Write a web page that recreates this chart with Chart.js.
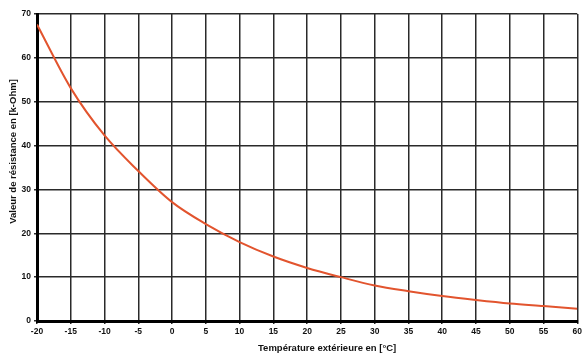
<!DOCTYPE html>
<html><head><meta charset="utf-8">
<script src="https://cdn.jsdelivr.net/npm/chart.js@4"></script>
<style>html,body{margin:0;padding:0;background:#fff}#w{width:585px;height:354px}</style>
</head><body><div id="w"><canvas id="c"></canvas></div>
<script>
const temperatures = [-20,-15,-10,-5,0,5,10,15,20,25,30,35,40,45,50,55,60];
const resistance = [67.6,53.1,42.3,34.2,27.1,22.1,18.0,14.7,12.1,10.0,8.1,6.8,5.7,4.8,4.0,3.4,2.8];
const xTitle = 'Température extérieure en [°C]';
const yTitle = 'Valeur de résistance en [k-Ohm]';
const tickFont = {family:'Liberation Sans, Arial, sans-serif', size:8.5, weight:'bold'};
const titleFontCss = 'bold 9.5px "Liberation Sans", Arial, sans-serif';
const axisTitles = {
  id:'axisTitles',
  afterDraw(chart){
    const ctx = chart.ctx, a = chart.chartArea;
    ctx.save();
    ctx.fillStyle = '#111';
    ctx.font = titleFontCss;
    ctx.textAlign = 'center';
    ctx.textBaseline = 'middle';
    ctx.fillText(xTitle, (a.left + a.right)/2 + 20, 348);
    ctx.translate(13, (a.top + a.bottom)/2 - 16);
    ctx.rotate(-Math.PI/2);
    ctx.fillText(yTitle, 0, 0);
    ctx.restore();
  }
};
new Chart(document.getElementById('c'), {
  type:'line',
  data:{datasets:[{data:temperatures.map((t,i)=>({x:t,y:resistance[i]})),
    borderColor:'#e2542e',borderWidth:2,pointRadius:0,cubicInterpolationMode:'monotone',fill:false}]},
  options:{
    responsive:true,maintainAspectRatio:false,animation:false,
    plugins:{legend:{display:false},tooltip:{enabled:false}},
    layout:{padding:{top:14,right:5,left:0,bottom:0}},
    scales:{
      x:{type:'linear',min:-20,max:60,
        ticks:{stepSize:5,color:'#111',font:tickFont,padding:3,maxRotation:0,autoSkip:false},
        grid:{color:'#2a2a2a',lineWidth:1.5,tickLength:3},
        border:{color:'#000',width:3},
        afterFit:s=>{s.height=33;}},
      y:{min:0,max:70,
        ticks:{stepSize:10,color:'#111',font:tickFont,padding:3},
        grid:{color:'#2a2a2a',lineWidth:1.5,tickLength:3},
        border:{color:'#000',width:3},
        afterFit:s=>{s.width=37;}}
    }
  },
  plugins:[axisTitles]
});
</script></body></html>
